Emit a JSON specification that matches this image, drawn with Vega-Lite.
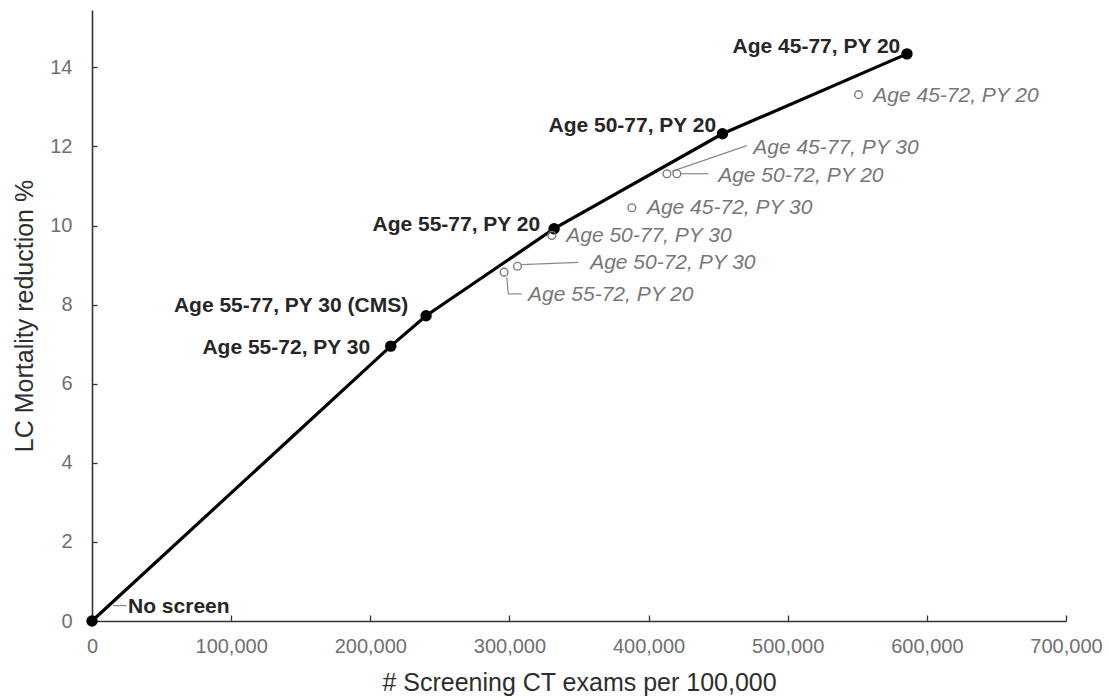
{
  "$schema": "https://vega.github.io/schema/vega-lite/v6.json",
  "autosize": "none",
  "width": 974,
  "height": 611,
  "padding": {"left": 92, "top": 10, "right": 43, "bottom": 77},
  "background": "white",
  "config": {
    "view": {"stroke": null},
    "font": "Liberation Sans",
    "axis": {
      "grid": false,
      "domainColor": "#333333",
      "domainWidth": 1.6,
      "tickColor": "#333333",
      "tickWidth": 1.3,
      "labelFont": "Liberation Sans",
      "labelColor": "#707070",
      "labelFontSize": 20,
      "titleFont": "Liberation Sans",
      "titleColor": "#2e2e2e",
      "titleFontSize": 25,
      "titleFontWeight": "normal"
    }
  },
  "datasets": {
    "pts": [
      {"name": "No screen", "x": 0, "y": 0, "frontier": true, "lx": 25900, "ly": 0.20},
      {"name": "Age 55-72, PY 30", "x": 214700, "y": 6.95, "frontier": true, "lx": 199900, "ly": 6.76},
      {"name": "Age 55-77, PY 30 (CMS)", "x": 240100, "y": 7.72, "frontier": true, "lx": 227200, "ly": 7.81},
      {"name": "Age 55-77, PY 20", "x": 332100, "y": 9.92, "frontier": true, "lx": 322100, "ly": 9.87},
      {"name": "Age 50-77, PY 20", "x": 453100, "y": 12.32, "frontier": true, "lx": 448600, "ly": 12.36},
      {"name": "Age 45-77, PY 20", "x": 585700, "y": 14.34, "frontier": true, "lx": 580900, "ly": 14.36},
      {"name": "Age 45-72, PY 20", "x": 550900, "y": 13.31, "frontier": false, "lx": 561500, "ly": 13.12},
      {"name": "Age 45-77, PY 30", "x": 413200, "y": 11.31, "frontier": false, "lx": 475200, "ly": 11.81},
      {"name": "Age 50-72, PY 20", "x": 420300, "y": 11.31, "frontier": false, "lx": 450000, "ly": 11.09},
      {"name": "Age 45-72, PY 30", "x": 388000, "y": 10.45, "frontier": false, "lx": 398800, "ly": 10.30},
      {"name": "Age 50-77, PY 30", "x": 330500, "y": 9.75, "frontier": false, "lx": 340800, "ly": 9.58},
      {"name": "Age 50-72, PY 30", "x": 305800, "y": 8.97, "frontier": false, "lx": 358000, "ly": 8.91},
      {"name": "Age 55-72, PY 20", "x": 296200, "y": 8.82, "frontier": false, "lx": 313400, "ly": 8.10}
    ],
    "leaders": [
      {"x": 416700, "y": 11.37, "x2": 470600, "y2": 12.02},
      {"x": 423400, "y": 11.31, "x2": 443100, "y2": 11.31},
      {"x": 308900, "y": 9.01, "x2": 349600, "y2": 9.07},
      {"x": 298100, "y": 8.69, "x2": 299200, "y2": 8.27},
      {"x": 299200, "y": 8.27, "x2": 308900, "y2": 8.27},
      {"x": 15100, "y": 0.39, "x2": 24900, "y2": 0.39}
    ]
  },
  "encoding": {
    "x": {
      "type": "quantitative",
      "scale": {"domain": [0, 700000], "nice": false, "zero": false},
      "axis": {"title": "# Screening CT exams per 100,000", "values": [0,100000,200000,300000,400000,500000,600000,700000], "format": ",d", "tickSize": -6, "labelPadding": 21, "titlePadding": 14, "labelFlush": false, "labelOverlap": false}
    },
    "y": {
      "type": "quantitative",
      "scale": {"domain": [0, 15.45], "nice": false, "zero": false},
      "axis": {"title": "LC Mortality reduction %", "values": [0,2,4,6,8,10,12,14], "tickSize": -5, "labelPadding": 25, "titlePadding": 12, "labelFlush": false}
    }
  },
  "layer": [
    {
      "data": {"name": "leaders"},
      "mark": {"type": "rule", "color": "#8a8a8a", "strokeWidth": 1.2},
      "encoding": {
        "x": {"field": "x", "type": "quantitative"},
        "y": {"field": "y", "type": "quantitative"},
        "x2": {"field": "x2"},
        "y2": {"field": "y2"}
      }
    },
    {
      "data": {"name": "pts"},
      "transform": [{"filter": "datum.frontier"}],
      "mark": {"type": "line", "color": "#000000", "strokeWidth": 3.2},
      "encoding": {
        "x": {"field": "x", "type": "quantitative"},
        "y": {"field": "y", "type": "quantitative"},
        "order": {"field": "x", "type": "quantitative"}
      }
    },
    {
      "data": {"name": "pts"},
      "transform": [{"filter": "datum.frontier"}],
      "mark": {"type": "point", "filled": true, "color": "#000000", "size": 130, "opacity": 1},
      "encoding": {
        "x": {"field": "x", "type": "quantitative"},
        "y": {"field": "y", "type": "quantitative"}
      }
    },
    {
      "data": {"name": "pts"},
      "transform": [{"filter": "!datum.frontier"}],
      "mark": {"type": "point", "filled": false, "stroke": "#7a7a7a", "fill": "white", "fillOpacity": 0, "size": 60, "strokeWidth": 1.4, "opacity": 1},
      "encoding": {
        "x": {"field": "x", "type": "quantitative"},
        "y": {"field": "y", "type": "quantitative"}
      }
    },
    {
      "data": {"name": "pts"},
      "transform": [{"filter": "datum.frontier && datum.name != 'No screen'"}],
      "mark": {"type": "text", "align": "right", "baseline": "alphabetic", "font": "Liberation Sans", "fontWeight": "bold", "fontSize": 21, "color": "#262626"},
      "encoding": {
        "x": {"field": "lx", "type": "quantitative"},
        "y": {"field": "ly", "type": "quantitative"},
        "text": {"field": "name"}
      }
    },
    {
      "data": {"name": "pts"},
      "transform": [{"filter": "datum.name == 'No screen'"}],
      "mark": {"type": "text", "align": "left", "baseline": "alphabetic", "font": "Liberation Sans", "fontWeight": "bold", "fontSize": 21, "color": "#262626"},
      "encoding": {
        "x": {"field": "lx", "type": "quantitative"},
        "y": {"field": "ly", "type": "quantitative"},
        "text": {"field": "name"}
      }
    },
    {
      "data": {"name": "pts"},
      "transform": [{"filter": "!datum.frontier"}],
      "mark": {"type": "text", "align": "left", "baseline": "alphabetic", "font": "Liberation Sans", "fontStyle": "italic", "fontSize": 21, "color": "#777777"},
      "encoding": {
        "x": {"field": "lx", "type": "quantitative"},
        "y": {"field": "ly", "type": "quantitative"},
        "text": {"field": "name"}
      }
    }
  ]
}
